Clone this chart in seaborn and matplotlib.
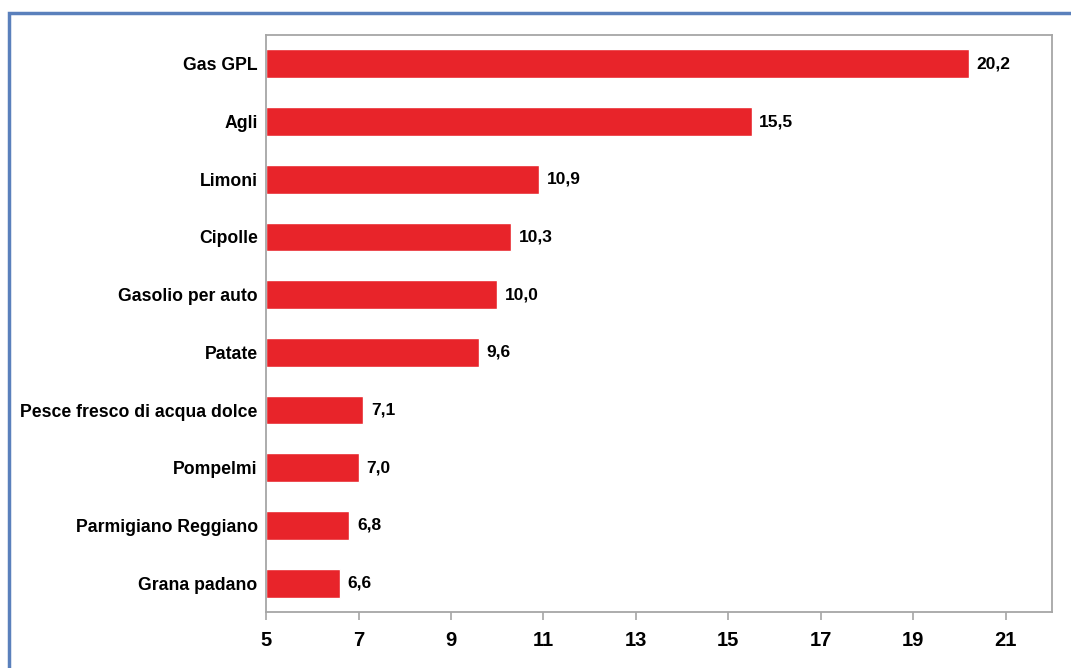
import matplotlib
matplotlib.use("Agg")
import matplotlib.pyplot as plt
from matplotlib.patches import Rectangle
import seaborn as sns
import pandas as pd

categories = [
    "Gas GPL",
    "Agli",
    "Limoni",
    "Cipolle",
    "Gasolio per auto",
    "Patate",
    "Pesce fresco di acqua dolce",
    "Pompelmi",
    "Parmigiano Reggiano",
    "Grana padano",
]
values = [20.2, 15.5, 10.9, 10.3, 10.0, 9.6, 7.1, 7.0, 6.8, 6.6]
value_labels = ["20,2", "15,5", "10,9", "10,3", "10,0", "9,6", "7,1", "7,0", "6,8", "6,6"]
x_ticks = [5, 7, 9, 11, 13, 15, 17, 19, 21]

sns.set_style("white")
plt.rcParams["font.family"] = ["Liberation Sans", "DejaVu Sans"]
plt.rcParams["text.color"] = "black"
plt.rcParams["xtick.color"] = "black"
plt.rcParams["ytick.color"] = "black"

df = pd.DataFrame({"categoria": categories, "valore": values})

fig = plt.figure(figsize=(10.71, 6.68), dpi=100)
ax = fig.add_axes([0.2484, 0.0838, 0.7339, 0.8638])

# bars start at the axis origin (5), so plot the offset from it
base = 5
df["delta"] = df["valore"] - base
sns.barplot(data=df, x="delta", y="categoria", orient="h", color="#E8242A",
            saturation=1, width=0.5, ax=ax, left=base)

ax.set_xlim(base, 22)
ax.set_ylim(9.5, -0.5)
ax.set_xticks(x_ticks)
ax.set_xticklabels([str(t) for t in x_ticks], fontsize=14.5, fontweight="bold")
ax.set_xlabel("")
ax.set_ylabel("")
ax.tick_params(axis="y", left=False, length=0, pad=6, labelsize=12.7)
for lbl in ax.get_yticklabels():
    lbl.set_fontweight("bold")
ax.tick_params(axis="x", bottom=True, direction="out", length=6, width=1.2,
               color="#A6A6A6", labelcolor="black", pad=8)

for sp in ax.spines.values():
    sp.set_color("#A6A6A6")
    sp.set_linewidth(1.3)

for i, (v, lab) in enumerate(zip(values, value_labels)):
    ax.text(v + 0.17, i, lab, va="center", ha="left", fontsize=12.5,
            fontweight="bold", color="black")

# outer frame
fig.patches.append(Rectangle((9 / 1071, -0.05), 1.2, 1 - 13 / 668 + 0.05,
                             transform=fig.transFigure, fill=False,
                             edgecolor="#5A80BC", linewidth=2.5))

fig.savefig("out.png", dpi=100)
